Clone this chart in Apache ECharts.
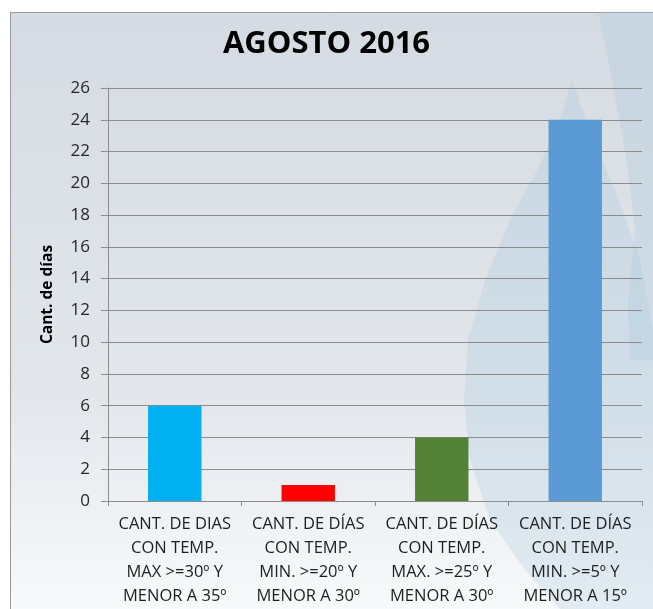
<!DOCTYPE html>
<html><head><meta charset="utf-8">
<script src="https://cdn.jsdelivr.net/npm/echarts@6/dist/echarts.min.js"></script>
<style>html,body{margin:0;padding:0;background:#fff;}#c{width:653px;height:609px;}</style>
</head><body><div id="c"></div>
<script>
const title = 'AGOSTO 2016';
const yAxisName = 'Cant. de días';
const categories = [
  'CANT. DE DIAS\nCON TEMP.\nMAX >=30º Y\nMENOR A 35º',
  'CANT. DE DÍAS\nCON TEMP.\nMIN. >=20º Y\nMENOR A 30º',
  'CANT. DE DÍAS\nCON TEMP.\nMAX. >=25º Y\nMENOR A 30º',
  'CANT. DE DÍAS\nCON TEMP.\nMIN. >=5º Y\nMENOR A 15º'
];
const values = [6, 1, 4, 24];
const barColors = ['#00B0F0', '#FF0000', '#538135', '#5B9BD5'];
const yMin = 0, yMax = 26, yStep = 2;

const chart = echarts.init(document.getElementById('c'));
chart.setOption({
  animation: false,
  backgroundColor: '#ffffff',
  graphic: [
    { type: 'rect', z: -20, shape: { x: 10.5, y: 12.5, width: 700, height: 700 },
      style: { fill: { type: 'linear', x: 0, y: 0, x2: 0, y2: 1, colorStops: [
        { offset: 0, color: '#d5dbe2' }, { offset: 0.55, color: '#e3e7ec' }, { offset: 0.85, color: '#f8f9fa' }, { offset: 1, color: '#ffffff' }] },
        stroke: '#9a9a9a', lineWidth: 1 } },
    { type: 'polygon', z: -15,
      shape: { points: [[572,80],[560,120],[540,165],[510,220],[485,280],[468,340],[464,400],[470,460],[490,520],[525,570],[560,609],[653,609],[653,330],[640,260],[615,190],[590,130]] },
      style: { fill: 'rgba(160,195,220,0.25)' } },
    { type: 'polygon', z: -15,
      shape: { points: [[598,12],[653,12],[653,360],[630,360],[628,300],[635,230],[625,150],[610,70]] },
      style: { fill: 'rgba(160,195,220,0.25)' } }
  ],
  title: {
    text: title, left: 'center', top: 24,
    textStyle: { fontFamily: 'Open Sans', fontWeight: 'bold', fontSize: 31, color: '#000' }
  },
  grid: { left: 108, right: 11, top: 88, bottom: 108 },
  xAxis: {
    type: 'category', data: categories,
    axisLine: { lineStyle: { color: '#8c8c8c', width: 1 } },
    axisTick: { show: true, length: 5, lineStyle: { color: '#8c8c8c' } },
    axisLabel: { interval: 0, fontFamily: 'Open Sans', fontSize: 16.5, lineHeight: 24, color: '#1e1e1e', margin: 11 }
  },
  yAxis: {
    type: 'value', min: yMin, max: yMax, interval: yStep,
    name: yAxisName, nameLocation: 'middle', nameGap: 52, nameRotate: 90,
    nameTextStyle: { fontFamily: 'Open Sans', fontWeight: 'bold', fontSize: 15.5, color: '#000' },
    axisLine: { show: true, lineStyle: { color: '#8c8c8c' } },
    axisTick: { show: true, length: 7, lineStyle: { color: '#8c8c8c' } },
    axisLabel: { fontFamily: 'Open Sans', fontSize: 17, color: '#262626', margin: 18 },
    splitLine: { lineStyle: { color: '#8c8c8c', width: 1 } }
  },
  series: [{
    type: 'bar', barWidth: '40%',
    data: values.map((v, i) => ({ value: v, itemStyle: { color: barColors[i] } }))
  }]
});
</script></body></html>
